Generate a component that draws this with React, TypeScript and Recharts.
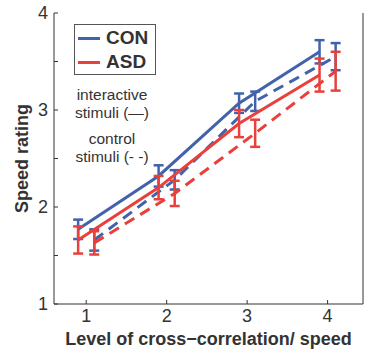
import React from 'react';
import { LineChart, Line, XAxis, YAxis, ErrorBar } from 'recharts';

const levels = [1, 2, 3, 4];
const xShift = 0.1;
const conInteractive = [1.77, 2.32, 3.07, 3.6];
const conInteractiveErr = [0.1, 0.11, 0.1, 0.12];
const conControl = [1.66, 2.28, 3.09, 3.55];
const conControlErr = [0.11, 0.1, 0.1, 0.14];
const asdInteractive = [1.66, 2.2, 2.86, 3.36];
const asdInteractiveErr = [0.14, 0.12, 0.14, 0.17];
const asdControl = [1.63, 2.14, 2.76, 3.4];
const asdControlErr = [0.12, 0.13, 0.14, 0.2];

const yTicks = [1, 1.5, 2, 2.5, 3, 3.5, 4];
const xTicks = [1, 2, 3, 4];
const legendItems = [
  { name: 'CON', color: '#4262ab' },
  { name: 'ASD', color: '#e9403b' },
];

const BLUE = '#4262ab';
const RED = '#e9403b';
const FONT = '"Liberation Sans", Arial, Helvetica, sans-serif';

const build = (vals: number[], errs: number[], shift: number) =>
  levels.map((l, i) => ({ x: l + shift, y: vals[i], err: errs[i] }));

const conI = build(conInteractive, conInteractiveErr, -xShift);
const conC = build(conControl, conControlErr, xShift);
const asdI = build(asdInteractive, asdInteractiveErr, -xShift);
const asdC = build(asdControl, asdControlErr, xShift);

const LegendBox = () => (
  <div
    style={{
      position: 'absolute',
      left: 74,
      top: 24,
      border: '1px solid #555',
      width: 82,
      height: 51,
      background: '#fff',
      boxSizing: 'border-box',
      paddingTop: 1,
    }}
  >
    {legendItems.map((it) => (
      <div key={it.name} style={{ display: 'flex', alignItems: 'center', height: 24 }}>
        <div style={{ width: 22, height: 3, background: it.color, marginLeft: 3, marginRight: 6 }} />
        <span style={{ fontFamily: FONT, fontWeight: 'bold', fontSize: 19, color: '#333' }}>{it.name}</span>
      </div>
    ))}
  </div>
);

const noteStyle: React.CSSProperties = {
  position: 'absolute',
  width: 110,
  textAlign: 'center',
  fontFamily: FONT,
  fontSize: 15.5,
  color: '#333',
  lineHeight: '18px',
};

export default function App() {
  return (
    <div style={{ position: 'absolute', left: 0, top: 0, width: 371, height: 349, background: '#fff' }}>
      <LineChart width={371} height={349} margin={{ top: 13, right: 0, bottom: 0, left: 0 }}>
        <XAxis
          xAxisId="b"
          type="number"
          dataKey="x"
          domain={[0.6, 4.44]}
          ticks={xTicks}
          allowDataOverflow
          height={45}
          stroke="#333"
          tickSize={-4}
          tickMargin={9}
          tick={{ fill: '#333', fontSize: 18, fontFamily: FONT }}
          label={{
            value: 'Level of cross\u2212correlation/ speed',
            position: 'insideBottom',
            offset: 4,
            style: { fill: '#333', fontSize: 18, fontWeight: 'bold', fontFamily: FONT },
          }}
        />
        <XAxis
          xAxisId="t"
          orientation="top"
          type="number"
          dataKey="x"
          domain={[0.6, 4.44]}
          ticks={xTicks}
          allowDataOverflow
          height={0}
          stroke="#333"
          tickSize={-4}
          tick={false}
        />
        <YAxis
          yAxisId="l"
          type="number"
          domain={[1, 4]}
          ticks={yTicks}
          allowDataOverflow
          width={54}
          stroke="#333"
          tickSize={-4}
          tickMargin={10}
          tickFormatter={(v: number) => (Number.isInteger(v) ? String(v) : '')}
          tick={{ fill: '#333', fontSize: 18, fontFamily: FONT }}
          label={{
            value: 'Speed rating',
            angle: -90,
            position: 'insideLeft',
            offset: 22,
            style: { textAnchor: 'middle', fill: '#333', fontSize: 18, fontWeight: 'bold', fontFamily: FONT },
          }}
        />
        <YAxis
          yAxisId="r"
          orientation="right"
          type="number"
          domain={[1, 4]}
          ticks={yTicks}
          allowDataOverflow
          width={8}
          stroke="#333"
          tickSize={-4}
          tick={false}
        />
        <Line data={conI} dataKey="y" xAxisId="t" yAxisId="r" stroke="none" dot={false} activeDot={false} isAnimationActive={false} legendType="none" />
        <Line data={conC} dataKey="y" xAxisId="b" yAxisId="l" stroke={BLUE} strokeWidth={3} strokeDasharray="11 7" dot={false} isAnimationActive={false} legendType="none">
          <ErrorBar dataKey="err" direction="y" width={5} stroke={BLUE} strokeWidth={2.5} isAnimationActive={false} />
        </Line>
        <Line data={conI} dataKey="y" xAxisId="b" yAxisId="l" stroke={BLUE} strokeWidth={3} dot={false} isAnimationActive={false} legendType="none">
          <ErrorBar dataKey="err" direction="y" width={5} stroke={BLUE} strokeWidth={2.5} isAnimationActive={false} />
        </Line>
        <Line data={asdC} dataKey="y" xAxisId="b" yAxisId="l" stroke={RED} strokeWidth={3} strokeDasharray="11 7" dot={false} isAnimationActive={false} legendType="none">
          <ErrorBar dataKey="err" direction="y" width={5} stroke={RED} strokeWidth={2.5} isAnimationActive={false} />
        </Line>
        <Line data={asdI} dataKey="y" xAxisId="b" yAxisId="l" stroke={RED} strokeWidth={3} dot={false} isAnimationActive={false} legendType="none">
          <ErrorBar dataKey="err" direction="y" width={5} stroke={RED} strokeWidth={2.5} isAnimationActive={false} />
        </Line>
      </LineChart>
      <LegendBox />
      <div style={{ ...noteStyle, left: 57, top: 86 }}>
        interactive
        <br />
        stimuli (&#8212;)
      </div>
      <div style={{ ...noteStyle, left: 57, top: 130 }}>
        control
        <br />
        stimuli (- -)
      </div>
    </div>
  );
}
